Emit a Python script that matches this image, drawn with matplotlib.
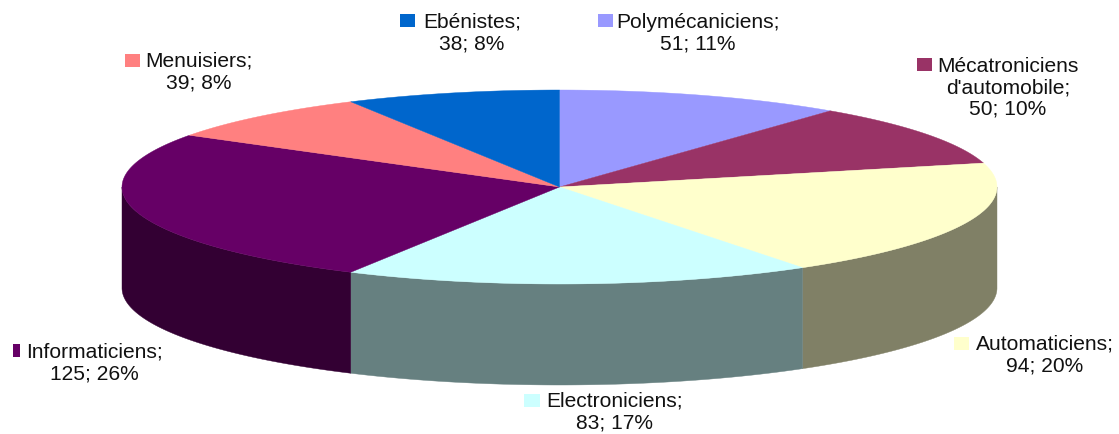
import numpy as np
import matplotlib
matplotlib.use("Agg")
import matplotlib.pyplot as plt
from matplotlib.patches import Polygon, Rectangle

# clockwise from the top of the pie
names = ["Polymécaniciens;", "Mécatroniciens\nd'automobile;", "Automaticiens;",
         "Electroniciens;", "Informaticiens;", "Menuisiers;", "Ebénistes;"]
values = [51, 50, 94, 83, 125, 39, 38]
percents = [11, 10, 20, 17, 26, 8, 8]
colors = ["#9999FF", "#993366", "#FFFFCC", "#CCFFFF", "#660066", "#FF8080", "#0066CC"]
side_colors = ["#4D4D80", "#4D1A33", "#808066", "#668080", "#330033", "#804040", "#003366"]

# label centre x, centre y, key x, key y, key width
label_pos = [(698, 33, 598, 15, 15), (1008, 88, 917, 59, 15), (1045, 355, 954, 338, 15),
             (615, 412, 524, 395, 16), (94, 363, 13, 345, 7), (199, 72, 125, 55, 15),
             (472, 33, 400, 15, 15)]

cx, cy = 559.5, 188
rx, ry = 437.5, 97
depth = 101


def rim(a, b):
    t = np.radians(np.linspace(a, b, 200))
    return cx + rx * np.sin(t), cy - ry * np.cos(t)


def main():
    fig = plt.figure(figsize=(11.19, 4.35), dpi=100)
    ax = fig.add_axes([0, 0, 1, 1])
    ax.set_xlim(0, 1119)
    ax.set_ylim(435, 0)
    ax.axis("off")

    edges = np.cumsum([0] + values) / sum(values) * 360

    # side wall, only the front half of the rim shows
    for i in range(len(values)):
        a, b = max(edges[i], 90), min(edges[i + 1], 270)
        if a >= b:
            continue
        x, y = rim(a, b)
        pts = np.r_[np.c_[x, y], np.c_[x[::-1], y[::-1] + depth]]
        ax.add_patch(Polygon(pts, fc=side_colors[i], ec=side_colors[i], lw=0.3))

    # top face
    for i in range(len(values)):
        x, y = rim(edges[i], edges[i + 1])
        pts = np.r_[[[cx, cy]], np.c_[x, y]]
        ax.add_patch(Polygon(pts, fc=colors[i], ec=colors[i], lw=0.3))

    for i in range(len(values)):
        lx, ly, kx, ky, kw = label_pos[i]
        ax.add_patch(Rectangle((kx, ky), kw, 13, fc=colors[i], ec="none"))
        ax.text(lx, ly, f"{names[i]}\n{values[i]}; {percents[i]}%", ha="center", va="center",
                family="Liberation Sans", fontsize=15.1, color="#111111", linespacing=1.15,
                multialignment="center")

    fig.savefig("out.png", dpi=100)


if __name__ == "__main__":
    main()
